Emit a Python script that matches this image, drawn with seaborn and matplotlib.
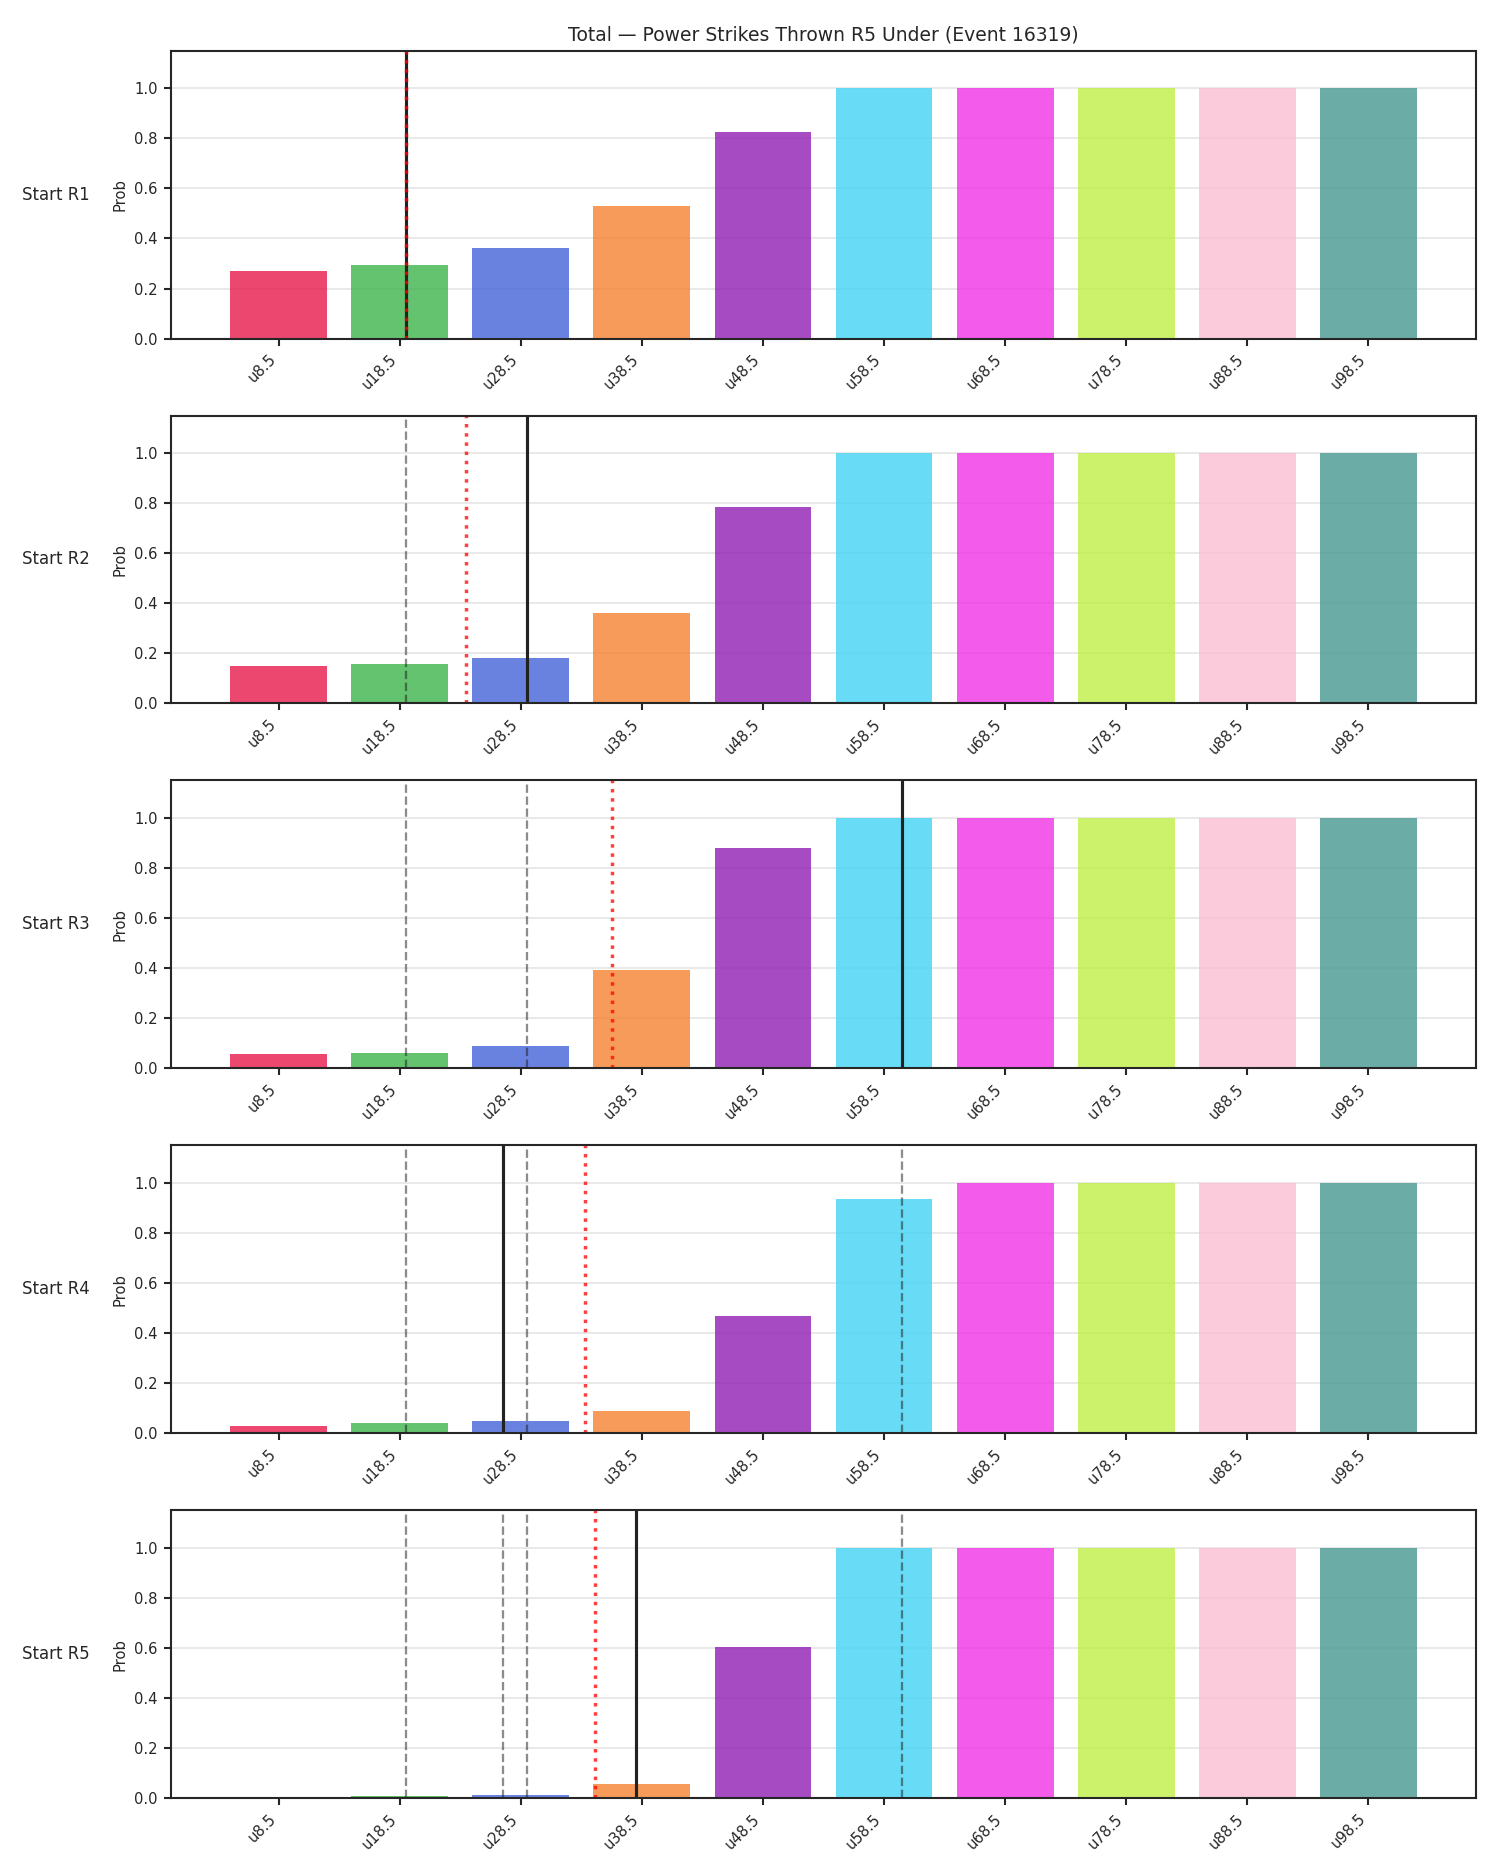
# Under-probabilities per line, one panel per starting round

import numpy as np
import pandas as pd
import seaborn as sns
import matplotlib
matplotlib.use('Agg')
import matplotlib.pyplot as plt

lines = ['u8.5', 'u18.5', 'u28.5', 'u38.5', 'u48.5', 'u58.5', 'u68.5', 'u78.5', 'u88.5', 'u98.5']
thresholds = [8.5, 18.5, 28.5, 38.5, 48.5, 58.5, 68.5, 78.5, 88.5, 98.5]
rounds = ['Start R1', 'Start R2', 'Start R3', 'Start R4', 'Start R5']

prob_r1 = [0.271, 0.295, 0.360, 0.528, 0.825, 1.0, 1.0, 1.0, 1.0, 1.0]
prob_r2 = [0.151, 0.159, 0.183, 0.360, 0.785, 1.0, 1.0, 1.0, 1.0, 1.0]
prob_r3 = [0.059, 0.062, 0.091, 0.391, 0.878, 1.0, 1.0, 1.0, 1.0, 1.0]
prob_r4 = [0.029, 0.041, 0.050, 0.090, 0.467, 0.937, 1.0, 1.0, 1.0, 1.0]
prob_r5 = [0.0015, 0.007, 0.011, 0.058, 0.605, 1.0, 1.0, 1.0, 1.0, 1.0]

# strikes thrown at start of each round, and projected total
actual = [19.0, 29.0, 60.0, 27.0, 38.0]
projected = [19.0, 24.0, 36.0, 33.8, 34.6]

colors = ['#e6194b', '#3cb44b', '#4363d8', '#f58231', '#911eb4',
          '#42d4f4', '#f032e6', '#bfef45', '#fabed4', '#469990']

sns.set_theme(style='ticks')
plt.rcParams['font.family'] = ['DejaVu Sans']

fig, axes = plt.subplots(5, 1, figsize=(12, 15), dpi=125)
fig.subplots_adjust(left=0.114, right=0.984, top=0.973, bottom=0.041, hspace=0.267)

all_probs = [prob_r1, prob_r2, prob_r3, prob_r4, prob_r5]
idx = np.arange(len(lines))

for i, ax in enumerate(axes):
    df = pd.DataFrame({'line': lines, 'prob': all_probs[i]})
    sns.barplot(data=df, x='line', y='prob', hue='line', palette=colors,
                saturation=1, alpha=0.8, legend=False, ax=ax, width=0.8,
                linewidth=0)
    ax.set_xlim(-0.4 - 0.49, 9.4 + 0.49)
    ax.set_ylim(0, 1.15)
    ax.grid(axis='y', color='#e6e6e6', linewidth=1)
    ax.set_axisbelow(True)

    # previous rounds' starting totals
    for j in range(i):
        ax.axvline(np.interp(actual[j], thresholds, idx), color='k', alpha=0.5,
                   linestyle='--', linewidth=1.3)
    ax.axvline(np.interp(actual[i], thresholds, idx), color='#222222', linewidth=1.8)
    ax.axvline(np.interp(projected[i], thresholds, idx), color='red', alpha=0.75,
               linestyle=':', linewidth=2)

    ax.set_xlabel('')
    ax.set_ylabel('Prob', fontsize=8.5)
    ax.set_yticks([0, 0.2, 0.4, 0.6, 0.8, 1.0])
    ax.set_xticks(idx)
    ax.set_xticklabels(lines, rotation=45, ha='right')
    ax.tick_params(axis='both', labelsize=8.5, length=4, width=1.2)
    for s in ax.spines.values():
        s.set_linewidth(1.2)
    ax.text(-0.062, 0.5, rounds[i], transform=ax.transAxes, ha='right',
            va='center', fontsize=9.5)

axes[0].set_title('Total — Power Strikes Thrown R5 Under (Event 16319)', fontsize=10.8)

plt.savefig('out.png')
plt.close()
